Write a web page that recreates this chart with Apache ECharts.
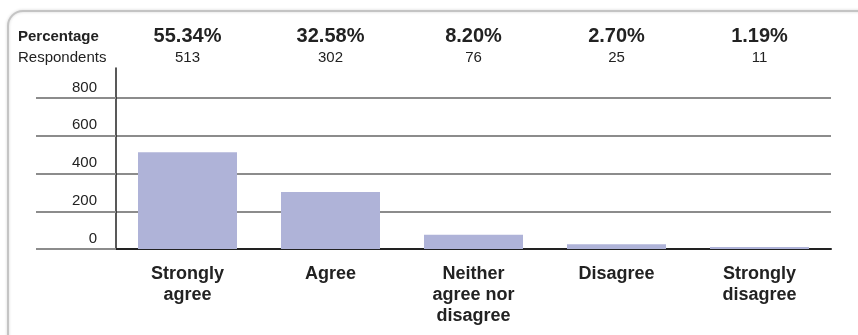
<!DOCTYPE html>
<html>
<head>
<meta charset="utf-8">
<script src="https://cdn.jsdelivr.net/npm/echarts@6/dist/echarts.min.js"></script>
<style>
  html, body { margin: 0; padding: 0; background: #ffffff; }
  #chart { width: 858px; height: 335px; }
</style>
</head>
<body>
<div id="chart"></div>
<script>
// Survey response categories
const categories = ['Strongly\nagree', 'Agree', 'Neither\nagree nor\ndisagree', 'Disagree', 'Strongly\ndisagree'];
// Number of respondents per answer
const respondents = [513, 302, 76, 25, 11];
// Share of all respondents, as printed in the header row
const percentages = ['55.34%', '32.58%', '8.20%', '2.70%', '1.19%'];
// Value axis range
const yMin = 0, yMax = 800, yStep = 200;

const FONT = '"Liberation Sans", Arial, sans-serif';
const INK = '#222222';
const GRID_GRAY = '#8c8c8c';
const BAR = '#afb3d8';

const layout = { left: 116, right: 27, bottom: 86 };

const chart = echarts.init(document.getElementById('chart'), null, { renderer: 'canvas' });

chart.setOption({
  animation: false,
  backgroundColor: '#ffffff',
  textStyle: { fontFamily: FONT },
  grid: [
    Object.assign({ top: 98 }, layout),
    // taller twin grid that only carries the vertical axis rule up into the header
    Object.assign({ top: 68 }, layout)
  ],
  graphic: [
    {
      type: 'rect',
      shape: { x: 8, y: 11, width: 870, height: 340, r: 15 },
      style: { fill: 'none', stroke: '#c4c4c4', lineWidth: 2, shadowBlur: 3, shadowColor: 'rgba(0,0,0,0.18)' },
      silent: true, z: -10
    },
    {
      type: 'text', left: 18, top: 29,
      style: { text: 'Percentage', font: 'bold 15px ' + FONT, fill: INK }
    },
    {
      type: 'text', left: 18, top: 50,
      style: { text: 'Respondents', font: '15px ' + FONT, fill: INK }
    }
  ],
  xAxis: [
    {
      type: 'category', gridIndex: 0, position: 'bottom',
      data: categories,
      axisLine: { show: true, lineStyle: { color: INK, width: 2 } },
      axisTick: { show: false },
      axisLabel: {
        color: INK, fontWeight: 'bold', fontSize: 18, lineHeight: 21,
        margin: 15, interval: 0, align: 'center'
      },
      splitLine: { show: false }
    },
    {
      type: 'category', gridIndex: 0, position: 'top',
      data: categories.map((c, i) => i),
      axisLine: { show: false },
      axisTick: { show: false },
      axisLabel: {
        interval: 0, margin: 30,
        formatter: (v, i) => '{p|' + percentages[i] + '}\n{n|' + respondents[i] + '}',
        rich: {
          p: { fontFamily: FONT, fontWeight: 'bold', fontSize: 20, lineHeight: 23, color: INK, align: 'center' },
          n: { fontFamily: FONT, fontSize: 15, lineHeight: 20, color: INK, align: 'center' }
        }
      }
    },
    { type: 'category', gridIndex: 1, show: false, data: categories }
  ],
  yAxis: [
    {
      type: 'value', gridIndex: 0,
      min: yMin, max: yMax, interval: yStep,
      axisLine: { show: false },
      axisTick: { show: true, inside: false, length: 80, lineStyle: { color: GRID_GRAY, width: 2 } },
      axisLabel: {
        color: INK, fontSize: 15, margin: 19,
        verticalAlign: 'bottom', padding: [0, 0, 3, 0]
      },
      splitLine: { show: true, lineStyle: { color: GRID_GRAY, width: 2 } }
    },
    {
      type: 'value', gridIndex: 1, min: 0, max: 1,
      axisLine: { show: true, lineStyle: { color: INK, width: 1.5 } },
      axisTick: { show: false },
      axisLabel: { show: false },
      splitLine: { show: false }
    }
  ],
  series: [
    {
      type: 'bar',
      xAxisIndex: 0, yAxisIndex: 0,
      data: respondents,
      barWidth: 99,
      itemStyle: { color: BAR },
      z: 1
    }
  ]
});
</script>
</body>
</html>
